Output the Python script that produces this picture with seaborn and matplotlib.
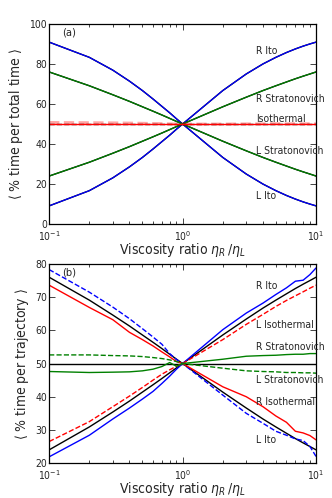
import numpy as np
import matplotlib
matplotlib.use("Agg")
import matplotlib.pyplot as plt
import seaborn as sns

# viscosity ratio grid
ratio = [0.1, 0.2, 0.3, 0.4, 0.5, 0.6, 0.7, 0.8, 0.9, 1.0,
         2, 3, 4, 5, 6, 7, 8, 9, 10]

# panel (a): % time per total time
a_r_ito = [9.1, 16.7, 23.1, 28.6, 33.3, 37.5, 41.2, 44.4, 47.4, 50.0,
           66.7, 75.0, 80.0, 83.3, 85.7, 87.5, 88.9, 90.0, 90.9]
a_l_ito = [90.9, 83.3, 76.9, 71.4, 66.7, 62.5, 58.8, 55.6, 52.6, 50.0,
           33.3, 25.0, 20.0, 16.7, 14.3, 12.5, 11.1, 10.0, 9.1]
a_r_strat = [24.0, 30.9, 35.4, 38.7, 41.4, 43.6, 45.5, 47.2, 48.7, 50.0,
             58.6, 63.4, 66.7, 69.1, 71.0, 72.6, 73.9, 75.0, 76.0]
a_l_strat = [76.0, 69.1, 64.6, 61.3, 58.6, 56.4, 54.5, 52.8, 51.3, 50.0,
             41.4, 36.6, 33.3, 30.9, 29.0, 27.4, 26.1, 25.0, 24.0]
a_iso = [50.0] * 19
a_iso_sim = [50.8, 50.7, 50.6, 50.5, 50.4, 50.3, 50.2, 50.1, 50.0, 50.0,
             50.0, 50.1, 50.1, 50.2, 50.1, 50.2, 50.1, 50.2, 50.1]

# panel (b): % time per trajectory
b_theory_up = a_r_strat
b_theory_down = a_l_strat
b_half = [50.0] * 19
b_r_ito = [21.9, 28.4, 33.3, 36.6, 39.3, 41.6, 44.0, 46.2, 48.3, 50.0,
           60.2, 65.2, 68.2, 70.8, 72.8, 74.8, 75.1, 76.8, 78.8]
b_l_ito = [78.3, 71.5, 67.0, 63.5, 60.5, 58.0, 55.8, 53.0, 51.2, 50.0,
           40.5, 35.0, 32.0, 29.6, 28.4, 27.3, 26.8, 25.0, 22.0]
b_r_iso = [73.6, 66.9, 63.2, 59.4, 57.2, 55.3, 53.5, 52.0, 50.6, 50.0,
           43.0, 40.0, 37.0, 34.2, 32.3, 29.6, 29.1, 28.3, 27.0]
b_l_iso = [26.5, 32.5, 37.0, 40.2, 42.8, 45.0, 46.8, 48.1, 49.2, 50.0,
           57.2, 61.8, 64.8, 67.2, 69.0, 70.4, 71.6, 72.7, 73.6]
b_r_strat = [47.6, 47.3, 47.4, 47.5, 47.8, 48.3, 49.1, 50.3, 49.2, 50.0,
             51.3, 52.2, 52.4, 52.5, 52.7, 52.8, 52.8, 53.0, 53.0]
b_l_strat = [52.6, 52.6, 52.4, 52.3, 52.1, 51.8, 51.5, 51.1, 50.6, 50.0,
             48.6, 47.8, 47.6, 47.5, 47.3, 47.3, 47.2, 47.2, 47.1]

sns.set_style("ticks")
plt.rcParams["font.family"] = ["DejaVu Sans"]
plt.rcParams["font.stretch"] = "condensed"
plt.rcParams["xtick.direction"] = "in"
plt.rcParams["ytick.direction"] = "in"

fig = plt.figure(figsize=(3.32, 4.98), dpi=100)
ax1 = fig.add_axes([0.148, 0.550, 0.804, 0.402])
ax2 = fig.add_axes([0.148, 0.070, 0.804, 0.400])

def line(ax, y, color, ls="-", lw=1.0, alpha=1.0):
    sns.lineplot(x=ratio, y=y, ax=ax, color=color, linestyle=ls,
                 linewidth=lw, alpha=alpha)

# (a)
for y, c in [(a_r_ito, "blue"), (a_l_ito, "blue"),
             (a_r_strat, "green"), (a_l_strat, "green")]:
    line(ax1, y, "black")
    line(ax1, y, c, lw=0.9)
line(ax1, a_iso_sim, "red", ls="--", lw=2.0, alpha=0.35)
line(ax1, a_iso, "black", ls="--")
line(ax1, a_iso, "red")

# (b)
line(ax2, b_theory_up, "black")
line(ax2, b_theory_down, "black")
line(ax2, b_half, "black")
line(ax2, b_r_ito, "blue")
line(ax2, b_l_ito, "blue", ls="--")
line(ax2, b_r_iso, "red")
line(ax2, b_l_iso, "red", ls="--")
line(ax2, b_r_strat, "green")
line(ax2, b_l_strat, "green", ls="--")

labels_a = [("R Ito", 86.3), ("R Stratonovich", 62.6), ("Isothermal", 52.6),
            ("L Stratonovich", 36.6), ("L Ito", 14.0)]
labels_b = [("R Ito", 73.5), ("L Isothermal", 61.6), ("R Stratonovich", 54.9),
            ("L Stratonovich", 45.1), ("R Isothermal", 38.3), ("L Ito", 27.0)]

for ax, labels, ylim, ticks, tag in [
        (ax1, labels_a, (0, 100), range(0, 101, 20), "(a)"),
        (ax2, labels_b, (20, 80), range(20, 81, 10), "(b)")]:
    ax.set_xscale("log")
    ax.set_xlim(0.1, 10)
    ax.set_ylim(*ylim)
    ax.set_yticks(list(ticks))
    ax.tick_params(which="both", top=True, right=True, labelsize=7.5,
                   width=0.6, pad=1.5)
    ax.tick_params(axis="x", which="both", pad=3.5)
    ax.tick_params(which="major", length=4)
    ax.tick_params(which="minor", length=2)
    for s in ax.spines.values():
        s.set_linewidth(0.9)
        s.set_color("black")
    for txt, yv in labels:
        ax.text(3.55, yv, txt, fontsize=7.5, va="center", ha="left")
    ax.text(0.05, 0.955, tag, transform=ax.transAxes, fontsize=8,
            va="center", ha="left")
    ax.set_xlabel(r"Viscosity ratio $\eta_R\,/\eta_L$", fontsize=10, labelpad=-1)

ax1.set_ylabel(r"$\langle$ % time per total time $\rangle$", fontsize=10, labelpad=3)
ax2.set_ylabel(r"$\langle$ % time per trajectory $\rangle$", fontsize=10, labelpad=3)

fig.savefig("out.png", dpi=100)
